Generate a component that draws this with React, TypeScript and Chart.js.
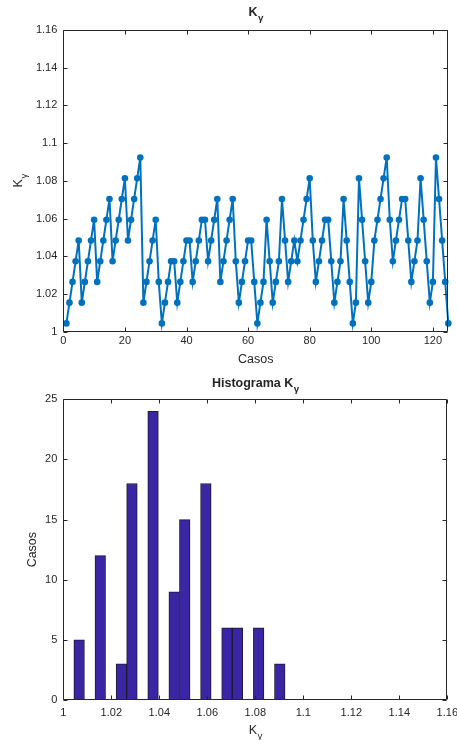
import React, { useEffect, useRef } from "react";
import { Chart, registerables } from "chart.js";

Chart.register(...registerables);

// ---------- data ----------
const kGammaValues: number[] = [
  1.0044, 1.0154, 1.0264, 1.0374, 1.0484, 1.0154, 1.0264, 1.0374, 1.0484, 1.0594,
  1.0264, 1.0374, 1.0484, 1.0594, 1.0704, 1.0374, 1.0484, 1.0594, 1.0704, 1.0814,
  1.0484, 1.0594, 1.0704, 1.0814, 1.0924, 1.0154, 1.0264, 1.0374, 1.0484, 1.0594,
  1.0264,
  1.0044, 1.0154, 1.0264, 1.0374, 1.0374, 1.0154, 1.0264, 1.0374, 1.0484, 1.0484,
  1.0264, 1.0374, 1.0484, 1.0594, 1.0594, 1.0374, 1.0484, 1.0594, 1.0704, 1.0264,
  1.0374, 1.0484, 1.0594, 1.0704, 1.0374, 1.0154, 1.0264, 1.0374, 1.0484, 1.0484,
  1.0264,
  1.0044, 1.0154, 1.0264, 1.0594, 1.0374, 1.0154, 1.0264, 1.0374, 1.0704, 1.0484,
  1.0264, 1.0374, 1.0484, 1.0374, 1.0484, 1.0594, 1.0704, 1.0814, 1.0484, 1.0264,
  1.0374, 1.0484, 1.0594, 1.0594, 1.0374, 1.0154, 1.0264, 1.0374, 1.0704, 1.0484,
  1.0264,
  1.0044, 1.0154, 1.0814, 1.0594, 1.0374, 1.0154, 1.0264, 1.0484, 1.0594, 1.0704,
  1.0814, 1.0924, 1.0594, 1.0374, 1.0484, 1.0594, 1.0704, 1.0704, 1.0484, 1.0264,
  1.0374, 1.0484, 1.0814, 1.0594, 1.0374, 1.0154, 1.0264, 1.0924, 1.0704, 1.0484,
  1.0264, 1.0044,
];

const histBinCenters: number[] = [
  1.0066, 1.0154, 1.0242, 1.0286, 1.0374, 1.0462, 1.0506, 1.0594, 1.0682, 1.0726, 1.0814, 1.0902,
];
const histCounts: number[] = [5, 12, 3, 18, 24, 9, 15, 18, 6, 6, 6, 3];
const histBinWidth = 0.0044;

const lineXTicks: number[] = [0, 20, 40, 60, 80, 100, 120];
const lineYTicks: number[] = [1, 1.02, 1.04, 1.06, 1.08, 1.1, 1.12, 1.14, 1.16];
const histXTicks: number[] = [1, 1.02, 1.04, 1.06, 1.08, 1.1, 1.12, 1.14, 1.16];
const histYTicks: number[] = [0, 5, 10, 15, 20, 25];

// ---------- styles ----------
const FONT = "'Liberation Sans', Arial, Helvetica, sans-serif";
const AX = "#262626";
const LINE_BLUE = "#0072BD";
const BAR_BLUE = "#3a25a5";
const W = 470;

function fmt(v: number) {
  return String(Number(v.toFixed(2)));
}

function drawSubText(
  ctx: CanvasRenderingContext2D,
  main: string,
  sub: string,
  size: number,
  bold: boolean,
  subDrop: number
) {
  const b = bold ? "bold " : "";
  ctx.font = `${b}${size}px ${FONT}`;
  const w1 = ctx.measureText(main).width;
  const subSize = size * 0.78;
  ctx.font = `${b}${subSize}px ${FONT}`;
  const w2 = ctx.measureText(sub).width;
  const start = -(w1 + w2) / 2;
  ctx.textAlign = "left";
  ctx.textBaseline = "middle";
  ctx.fillStyle = AX;
  ctx.font = `${b}${size}px ${FONT}`;
  ctx.fillText(main, start, 0);
  ctx.font = `${b}${subSize}px ${FONT}`;
  ctx.fillText(sub, start + w1 + 0.5, subDrop);
}

function makeFramePlugin(opts: {
  xTicks: number[];
  yTicks: number[];
  tickLen: number;
  title: [string, string];
  titleY: number;
  xLabel: [string, string];
  xLabelY: number;
  yLabel: [string, string];
  yLabelX: number;
}) {
  return {
    id: "matlabFrame",
    afterDraw(chart: any) {
      const ctx: CanvasRenderingContext2D = chart.ctx;
      const a = chart.chartArea;
      const xs = chart.scales.x;
      const ys = chart.scales.y;
      const L = Math.round(a.left) + 0.5;
      const R = Math.round(a.right) - 0.5;
      const T = Math.round(a.top) + 0.5;
      const B = Math.round(a.bottom) - 0.5;
      ctx.save();
      ctx.strokeStyle = AX;
      ctx.lineWidth = 1;
      ctx.beginPath();
      ctx.rect(L, T, R - L, B - T);
      for (const v of opts.xTicks) {
        const px = Math.round(xs.getPixelForValue(v)) + 0.5;
        ctx.moveTo(px, B);
        ctx.lineTo(px, B - opts.tickLen);
        ctx.moveTo(px, T);
        ctx.lineTo(px, T + opts.tickLen);
      }
      for (const v of opts.yTicks) {
        const py = Math.round(ys.getPixelForValue(v)) + 0.5;
        ctx.moveTo(L, py);
        ctx.lineTo(L + opts.tickLen, py);
        ctx.moveTo(R, py);
        ctx.lineTo(R - opts.tickLen, py);
      }
      ctx.stroke();

      const cx = (a.left + a.right) / 2;
      const cy = (a.top + a.bottom) / 2;
      ctx.save();
      ctx.translate(cx, opts.titleY);
      drawSubText(ctx, opts.title[0], opts.title[1], 12.5, true, 5.5);
      ctx.restore();
      ctx.save();
      ctx.translate(cx, opts.xLabelY);
      drawSubText(ctx, opts.xLabel[0], opts.xLabel[1], 12.5, false, 5);
      ctx.restore();
      ctx.save();
      ctx.translate(opts.yLabelX, cy);
      ctx.rotate(-Math.PI / 2);
      drawSubText(ctx, opts.yLabel[0], opts.yLabel[1], 12.5, false, 5);
      ctx.restore();
      ctx.restore();
    },
  };
}

const tickFont = { family: FONT, size: 11 };
const noGrid = { display: false, drawTicks: false, tickLength: 0 };

function LineChart() {
  const ref = useRef<HTMLCanvasElement | null>(null);
  useEffect(() => {
    if (!ref.current) return;
    const H = 372;
    const chart = new Chart(ref.current, {
      type: "line",
      data: {
        datasets: [
          {
            data: kGammaValues.map((v, i) => ({ x: i + 1, y: v })),
            borderColor: LINE_BLUE,
            backgroundColor: LINE_BLUE,
            borderWidth: 2,
            pointRadius: 3.3,
            pointBorderWidth: 0,
            pointBackgroundColor: LINE_BLUE,
            tension: 0,
            clip: false,
          },
        ],
      },
      options: {
        responsive: false,
        animation: false,
        devicePixelRatio: 1,
        layout: { padding: { top: 30, left: 0, right: W - 448.3, bottom: 0 } },
        plugins: { legend: { display: false }, tooltip: { enabled: false }, title: { display: false } },
        scales: {
          x: {
            type: "linear",
            min: 0,
            max: 125,
            grid: noGrid,
            border: { display: false },
            afterBuildTicks: (s: any) => {
              s.ticks = lineXTicks.map((v) => ({ value: v }));
            },
            afterFit: (s: any) => {
              s.height = H - 331.7;
            },
            ticks: { color: AX, font: tickFont, padding: 3, maxRotation: 0, callback: (v: any) => fmt(Number(v)) },
          },
          y: {
            type: "linear",
            min: 1,
            max: 1.16,
            grid: noGrid,
            border: { display: false },
            afterBuildTicks: (s: any) => {
              s.ticks = lineYTicks.map((v) => ({ value: v }));
            },
            afterFit: (s: any) => {
              s.width = 63.3;
            },
            ticks: { color: AX, font: tickFont, padding: 6, callback: (v: any) => fmt(Number(v)) },
          },
        },
      },
      plugins: [
        makeFramePlugin({
          xTicks: lineXTicks,
          yTicks: lineYTicks,
          tickLen: 4,
          title: ["K", "γ"],
          titleY: 13,
          xLabel: ["Casos", ""],
          xLabelY: 360,
          yLabel: ["K", "γ"],
          yLabelX: 19,
        }),
      ],
    } as any);
    return () => chart.destroy();
  }, []);
  return <canvas ref={ref} width={W} height={372} style={{ display: "block", position: "absolute", left: 0, top: 0 }} />;
}

function HistChart() {
  const ref = useRef<HTMLCanvasElement | null>(null);
  useEffect(() => {
    if (!ref.current) return;
    const H = 368;
    const plotLeft = 63.3;
    const plotRight = 447.3;
    const barPx = (histBinWidth * (plotRight - plotLeft)) / (1.16 - 1);
    const chart = new Chart(ref.current, {
      type: "bar",
      data: {
        datasets: [
          {
            data: histBinCenters.map((c, i) => ({ x: c, y: histCounts[i] })),
            backgroundColor: BAR_BLUE,
            borderColor: "#1c1c2a",
            borderWidth: 1,
            barThickness: barPx,
            borderSkipped: false,
          },
        ],
      },
      options: {
        responsive: false,
        animation: false,
        devicePixelRatio: 1,
        layout: { padding: { top: 399.3 - 372, left: 0, right: W - plotRight, bottom: 0 } },
        plugins: { legend: { display: false }, tooltip: { enabled: false }, title: { display: false } },
        scales: {
          x: {
            type: "linear",
            min: 1,
            max: 1.16,
            offset: false,
            grid: { ...noGrid, offset: false },
            border: { display: false },
            afterBuildTicks: (s: any) => {
              s.ticks = histXTicks.map((v) => ({ value: v }));
            },
            afterFit: (s: any) => {
              s.height = H - (700 - 372);
            },
            ticks: { color: AX, font: tickFont, padding: 6, maxRotation: 0, callback: (v: any) => fmt(Number(v)) },
          },
          y: {
            type: "linear",
            min: 0,
            max: 25,
            grid: noGrid,
            border: { display: false },
            afterBuildTicks: (s: any) => {
              s.ticks = histYTicks.map((v) => ({ value: v }));
            },
            afterFit: (s: any) => {
              s.width = plotLeft;
            },
            ticks: { color: AX, font: tickFont, padding: 6, callback: (v: any) => fmt(Number(v)) },
          },
        },
      },
      plugins: [
        makeFramePlugin({
          xTicks: histXTicks,
          yTicks: histYTicks,
          tickLen: 4,
          title: ["Histograma K", "γ"],
          titleY: 12,
          xLabel: ["K", "γ"],
          xLabelY: 359,
          yLabel: ["Casos", ""],
          yLabelX: 33,
        }),
      ],
    } as any);
    return () => chart.destroy();
  }, []);
  return <canvas ref={ref} width={W} height={368} style={{ display: "block", position: "absolute", left: 0, top: 372 }} />;
}

export default function App() {
  return (
    <div
      style={{
        position: "absolute",
        left: 0,
        top: 0,
        width: 457,
        height: 740,
        overflow: "hidden",
        background: "#fff",
      }}
    >
      <LineChart />
      <HistChart />
    </div>
  );
}
